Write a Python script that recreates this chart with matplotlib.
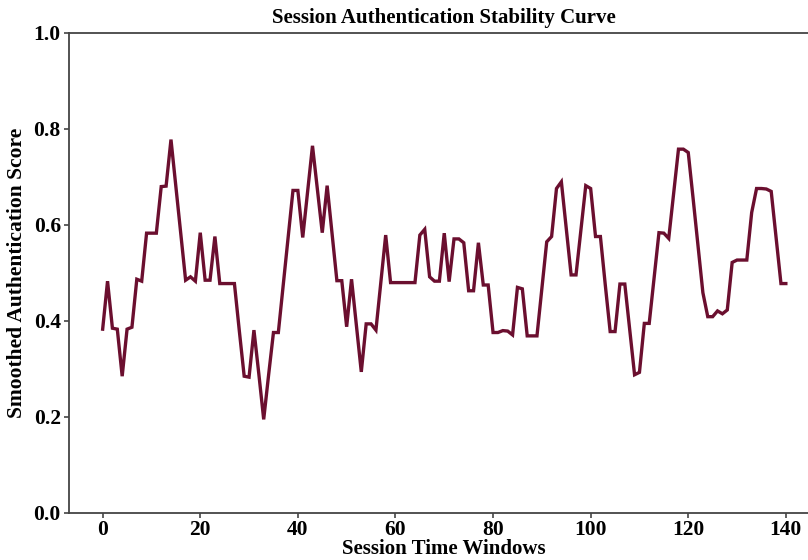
import matplotlib
matplotlib.use("Agg")
import matplotlib.pyplot as plt
import numpy as np

# Smoothed authentication score per session time window
windows = list(range(141))
scores = [
    0.383, 0.483, 0.385, 0.383, 0.285, 0.383, 0.387, 0.487, 0.483, 0.583,
    0.583, 0.583, 0.680, 0.681, 0.778, 0.680, 0.583, 0.485, 0.492, 0.483,
    0.584, 0.485, 0.485, 0.576, 0.478, 0.478, 0.478, 0.478, 0.380, 0.285,
    0.283, 0.381, 0.290, 0.195, 0.287, 0.376, 0.376, 0.475, 0.573, 0.672,
    0.672, 0.574, 0.670, 0.765, 0.675, 0.584, 0.682, 0.583, 0.484, 0.484,
    0.388, 0.487, 0.390, 0.294, 0.394, 0.394, 0.381, 0.480, 0.579, 0.480,
    0.480, 0.480, 0.480, 0.480, 0.480, 0.579, 0.591, 0.492, 0.483, 0.483,
    0.583, 0.482, 0.571, 0.571, 0.563, 0.463, 0.463, 0.563, 0.475, 0.475,
    0.376, 0.376, 0.380, 0.379, 0.371, 0.470, 0.467, 0.369, 0.369, 0.369,
    0.467, 0.565, 0.576, 0.676, 0.690, 0.593, 0.496, 0.496, 0.590, 0.682,
    0.676, 0.576, 0.576, 0.475, 0.378, 0.378, 0.477, 0.477, 0.382, 0.288,
    0.293, 0.395, 0.395, 0.490, 0.584, 0.583, 0.572, 0.665, 0.758, 0.758,
    0.751, 0.655, 0.556, 0.459, 0.409, 0.409, 0.421, 0.415, 0.423, 0.522,
    0.527, 0.527, 0.527, 0.626, 0.676, 0.676, 0.675, 0.670, 0.575, 0.478,
    0.478,
]

title = "Session Authentication Stability Curve"
x_label = "Session Time Windows"
y_label = "Smoothed Authentication Score"

plt.rcParams["font.family"] = ["Liberation Serif", "DejaVu Serif"]
plt.rcParams["font.weight"] = "bold"

W, H = 808, 560
fig = plt.figure(figsize=(W / 100, H / 100), dpi=100)
# axes run slightly past the right edge of the canvas
left, right = 68.5 / W, 820 / W
bottom, top = (H - 513) / H, (H - 33) / H
ax = fig.add_axes([left, bottom, right - left, top - bottom])

ax.plot(windows, scores, color="#6b0f2f", linewidth=2.4, solid_joinstyle="miter")

ax.set_ylim(0, 1.0)
ax.set_xlim(-7, 147)
ax.set_xticks(np.arange(0, 141, 20))
ax.set_yticks(np.arange(0, 1.01, 0.2))
ax.yaxis.set_major_formatter(matplotlib.ticker.FormatStrFormatter("%.1f"))

ax.set_title(title, fontsize=15, fontweight="bold", pad=7)
ax.set_xlabel(x_label, fontsize=15, fontweight="bold", labelpad=-0.5)
ax.set_ylabel(y_label, fontsize=15.5, fontweight="bold", labelpad=5)

for side in ["top", "bottom", "left", "right"]:
    ax.spines[side].set_color("#444444")
    ax.spines[side].set_linewidth(1.3)
ax.tick_params(axis="both", colors="#444444", length=3.5, width=1.2,
               labelsize=15.5, labelcolor="black")
ax.tick_params(axis="y", pad=2)
ax.tick_params(axis="x", pad=1.5)
for lbl in ax.get_xticklabels() + ax.get_yticklabels():
    lbl.set_fontweight("bold")

fig.savefig("out.png", dpi=100)
